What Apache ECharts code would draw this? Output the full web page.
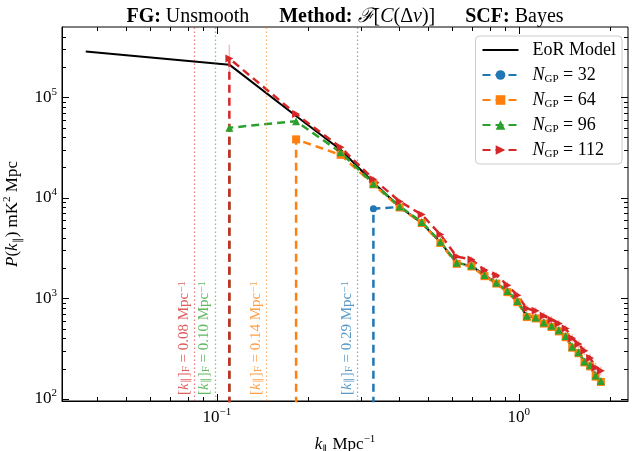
<!DOCTYPE html>
<html><head><meta charset="utf-8">
<script src="https://cdn.jsdelivr.net/npm/echarts@6/dist/echarts.min.js"></script>
<style>html,body{margin:0;padding:0;background:#fff}#c{width:632px;height:451px}</style>
</head><body><div id="c"></div>
<script>
// ---- data ----
const kModel = [0.0368, 0.110, 0.183, 0.257, 0.330, 0.403, 0.477, 0.550, 0.623, 0.697, 0.770, 0.843, 0.917, 0.990, 1.063, 1.137, 1.210, 1.283, 1.357, 1.430, 1.503, 1.577, 1.650, 1.723, 1.797, 1.870];
const pModel = [2.85e5, 2.11e5, 6.5e4, 3.0e4, 1.42e4, 8.1e3, 5.6e3, 3.6e3, 2.25e3, 2.1e3, 1.7e3, 1.42e3, 1.17e3, 930, 665, 640, 570, 528, 478, 418, 328, 288, 234, 214, 170, 150];
const kBins = [0.110, 0.183, 0.257, 0.330, 0.403, 0.477, 0.550, 0.623, 0.697, 0.770, 0.843, 0.917, 0.990, 1.063, 1.137, 1.210, 1.283, 1.357, 1.430, 1.503, 1.577, 1.650, 1.723, 1.797, 1.870];
const p32  = [null, null, null, 7.78e3, 8.1e3, 5.65e3, 3.58e3, 2.22e3, 2.09e3, 1.68e3, 1.41e3, 1.16e3, 925, 658, 636, 566, 524, 474, 415, 326, 287, 232, 212, 168, 148];
const p64  = [null, 3.81e4, 2.67e4, 1.36e4, 8.0e3, 5.6e3, 3.55e3, 2.2e3, 2.07e3, 1.66e3, 1.4e3, 1.15e3, 915, 650, 630, 560, 518, 468, 410, 322, 284, 230, 210, 166, 147];
const p96  = [4.97e4, 5.78e4, 2.83e4, 1.38e4, 8.2e3, 5.74e3, 3.64e3, 2.25e3, 2.12e3, 1.70e3, 1.43e3, 1.18e3, 940, 668, 644, 574, 532, 480, 420, 330, 290, 235, 215, 170, 150];
const p112 = [2.43e5, 6.8e4, 3.18e4, 1.53e4, 9.2e3, 6.8e3, 4.3e3, 2.6e3, 2.43e3, 1.91e3, 1.69e3, 1.35e3, 1.07e3, 790, 750, 668, 610, 560, 500, 400, 350, 300, 255, 205, 190];
const e32  = [null, null, null, 400, 300, 200, 130, 80, 75, 60, 50, 42, 34, 25, 24, 22, 20, 18, 16, 13, 12, 10, 9, 7, 6];
const e64  = [null, 2.5e3, 1e3, 500, 300, 200, 130, 80, 75, 60, 50, 42, 34, 25, 24, 22, 20, 18, 16, 13, 12, 10, 9, 7, 6];
const e96  = [2e3, 2.5e3, 1e3, 500, 300, 200, 130, 80, 75, 60, 50, 42, 34, 25, 24, 22, 20, 18, 16, 13, 12, 10, 9, 7, 6];
const e112 = [9.2e4, 4e3, 2e3, 1e3, 600, 450, 300, 200, 180, 150, 130, 110, 90, 70, 65, 60, 55, 50, 45, 38, 34, 30, 26, 22, 20];
const kF = {n32: 0.292, n64: 0.146, n96: 0.0985, n112: 0.0841};
const kFText = {n32: '0.29', n64: '0.14', n96: '0.10', n112: '0.08'};
const xMajorTicks = [0.1, 1];
const xMinorTicks = [0.04, 0.05, 0.06, 0.07, 0.08, 0.09, 0.2, 0.3, 0.4, 0.5, 0.6, 0.7, 0.8, 0.9, 2];
const yMajorTicks = [100, 1000, 10000, 100000];
const yMinorTicks = [200, 300, 400, 500, 600, 700, 800, 900, 2000, 3000, 4000, 5000, 6000, 7000, 8000, 9000,
  20000, 30000, 40000, 50000, 60000, 70000, 80000, 90000, 200000, 300000, 400000];
const FLOOR = 1;

const FONT = 'Liberation Serif';
const C = {n32: '#1f77b4', n64: '#ff7f0e', n96: '#2ca02c', n112: '#d62728'};
const richBase = {
  i: {fontStyle: 'italic', fontFamily: FONT},
  sub: {fontSize: 11, verticalAlign: 'bottom', lineHeight: 12, fontFamily: FONT},
  sup: {fontSize: 11, verticalAlign: 'top', lineHeight: 12, fontFamily: FONT},
  b: {fontWeight: 'bold', fontFamily: FONT}
};
function rich(size, color, lh) {
  const r = {};
  for (const k in richBase) r[k] = Object.assign({}, richBase[k], color ? {color} : {});
  r.i.fontSize = size;
  r.b.fontSize = size;
  if (lh) { r.i.lineHeight = lh; r.b.lineHeight = lh; }
  return r;
}

function lineData(vals) {
  const d = [];
  let first = true;
  for (let i = 0; i < kBins.length; i++) {
    if (vals[i] == null) continue;
    if (first) { d.push({value: [kBins[i], FLOOR], symbol: 'none'}); first = false; }
    d.push([kBins[i], vals[i]]);
  }
  return d;
}
function errData(vals, errs) {
  const d = [];
  for (let i = 0; i < kBins.length; i++) {
    if (vals[i] == null) continue;
    d.push([kBins[i], vals[i] - errs[i], vals[i] + errs[i]]);
  }
  return d;
}
function errSeries(vals, errs, color) {
  return {
    type: 'custom', coordinateSystem: 'cartesian2d', silent: true, z: 1,
    data: errData(vals, errs),
    renderItem: function (params, api) {
      const a = api.coord([api.value(0), api.value(1)]);
      const b = api.coord([api.value(0), api.value(2)]);
      return {type: 'line', shape: {x1: a[0], y1: a[1], x2: b[0], y2: b[1]},
        style: {stroke: color, lineWidth: 1.5, opacity: 0.3}};
    }
  };
}
function kFLabel(key) {
  return '[{i|k}{sub|∥}]{sub|F} = ' + kFText[key] + ' Mpc{sup|−1}';
}
function mainSeries(key, vals, symbol, name) {
  return {
    name: name, type: 'line', data: lineData(vals), z: 3,
    symbol: symbol, symbolSize: key === 'n32' ? 7 : 8,
    lineStyle: {color: C[key], width: 2.5, type: [8, 5]},
    itemStyle: {color: C[key]},
    clip: true,
    markLine: {
      silent: true, symbol: ['none', 'none'], precision: 5,
      lineStyle: {color: C[key], width: 1.3, type: [1.5, 2.5], opacity: 0.6},
      label: {
        show: true, position: 'insideStartTop', distance: [6, 3],
        formatter: () => kFLabel(key),
        color: C[key], opacity: 0.75, fontFamily: FONT, fontSize: 15,
        rich: rich(15, C[key])
      },
      data: [{xAxis: kF[key]}]
    }
  };
}
const tickData = [];
xMajorTicks.forEach(v => tickData.push([v, 1000, 7, 0]));
xMinorTicks.forEach(v => tickData.push([v, 1000, 4, 0]));
yMajorTicks.forEach(v => tickData.push([0.5, v, 7, 1]));
yMinorTicks.forEach(v => tickData.push([0.5, v, 4, 1]));

function expFmt(v) {
  const l = Math.log10(v), e = Math.round(l);
  if (Math.abs(l - e) > 1e-6) return '';
  return '10{sup|' + (e < 0 ? '−' + (-e) : e) + '}';
}

const chart = echarts.init(document.getElementById('c'), null, {renderer: 'canvas'});
chart.setOption({
  animation: false,
  backgroundColor: '#fff',
  title: {
    text: '{b|FG:} Unsmooth      {b|Method:} {i|ℱ}[{i|C}(Δ{i|ν})]      {b|SCF:} Bayes',
    left: 340, textAlign: 'center', top: 2,
    textStyle: {fontFamily: FONT, fontSize: 20, fontWeight: 'normal', color: '#000', rich: rich(20)}
  },
  grid: {left: 62, right: 4, top: 27, bottom: 50, show: true, borderColor: '#000', borderWidth: 1,
    backgroundColor: 'transparent', outerBoundsMode: 'none', containLabel: false},
  legend: {
    data: [{name: 'EoR Model', itemStyle: {opacity: 0}}, 'n32', 'n64', 'n96', 'n112'],
    orient: 'vertical', right: 10, top: 36,
    backgroundColor: 'rgba(255,255,255,0.85)', borderColor: '#ccc', borderWidth: 1, borderRadius: 4,
    padding: [4, 6, 4, 6], itemGap: 5, itemWidth: 36, itemHeight: 12,
    formatter: function (n) {
      const m = {'EoR Model': 'EoR Model', n32: '{i|N}{sub|GP} = 32', n64: '{i|N}{sub|GP} = 64', n96: '{i|N}{sub|GP} = 96', n112: '{i|N}{sub|GP} = 112'};
      return m[n];
    },
    textStyle: {fontFamily: FONT, fontSize: 18, color: '#000', lineHeight: 20, padding: [0, 0, 0, 9], rich: rich(18, null, 20)}
  },
  xAxis: {
    type: 'log', min: 0.0307, max: 2.3, splitNumber: 4,
    axisLine: {show: true, lineStyle: {color: '#000', width: 1}},
    axisTick: {show: false}, splitLine: {show: false},
    axisLabel: {formatter: expFmt, showMinLabel: false, showMaxLabel: false, margin: 6,
      fontFamily: FONT, fontSize: 17, color: '#000', lineHeight: 22, rich: rich(17)},
    name: '{i|k}{sub|∥} Mpc{sup|−1}', nameLocation: 'middle', nameGap: 23,
    nameTextStyle: {fontFamily: FONT, fontSize: 17, color: '#000', lineHeight: 22, rich: rich(17)}
  },
  yAxis: {
    type: 'log', min: 95, max: 5e5,
    axisLine: {show: true, lineStyle: {color: '#000', width: 1}},
    axisTick: {show: false}, splitLine: {show: false},
    axisLabel: {formatter: expFmt, showMinLabel: true, showMaxLabel: false, margin: 5,
      fontFamily: FONT, fontSize: 17, color: '#000', lineHeight: 22, rich: rich(17)},
    name: '{i|P}({i|k}{sub|∥}) mK{sup|2} Mpc', nameLocation: 'middle', nameGap: 33, nameRotate: 90,
    nameTextStyle: {fontFamily: FONT, fontSize: 17, color: '#000', lineHeight: 22, rich: rich(17)}
  },
  series: [
    {
      type: 'custom', coordinateSystem: 'cartesian2d', silent: true, clip: false, z: 5,
      data: tickData,
      renderItem: function (params, api) {
        const cs = params.coordSys;
        const len = api.value(2);
        if (api.value(3) === 0) {
          const px = Math.round(api.coord([api.value(0), 1000])[0]) + 0.5;
          return {type: 'group', children: [
            {type: 'line', shape: {x1: px, y1: cs.y + cs.height, x2: px, y2: cs.y + cs.height - len}, style: {stroke: '#000', lineWidth: 1}},
            {type: 'line', shape: {x1: px, y1: cs.y, x2: px, y2: cs.y + len}, style: {stroke: '#000', lineWidth: 1}}
          ]};
        }
        const py = Math.round(api.coord([0.5, api.value(1)])[1]) + 0.5;
        return {type: 'group', children: [
          {type: 'line', shape: {x1: cs.x, y1: py, x2: cs.x + len, y2: py}, style: {stroke: '#000', lineWidth: 1}},
          {type: 'line', shape: {x1: cs.x + cs.width, y1: py, x2: cs.x + cs.width - len, y2: py}, style: {stroke: '#000', lineWidth: 1}}
        ]};
      }
    },
    {
      name: 'EoR Model', type: 'line', data: kModel.map((k, i) => [k, pModel[i]]),
      symbol: 'none', z: 2, lineStyle: {color: '#000', width: 2}, itemStyle: {color: '#000'}
    },
    errSeries(p32, e32, C.n32),
    errSeries(p64, e64, C.n64),
    errSeries(p96, e96, C.n96),
    errSeries(p112, e112, C.n112),
    mainSeries('n32', p32, 'circle', 'n32'),
    mainSeries('n64', p64, 'rect', 'n64'),
    mainSeries('n96', p96, 'triangle', 'n96'),
    mainSeries('n112', p112, 'path://M0,0L10,5L0,10Z', 'n112')
  ]
});
</script></body></html>
